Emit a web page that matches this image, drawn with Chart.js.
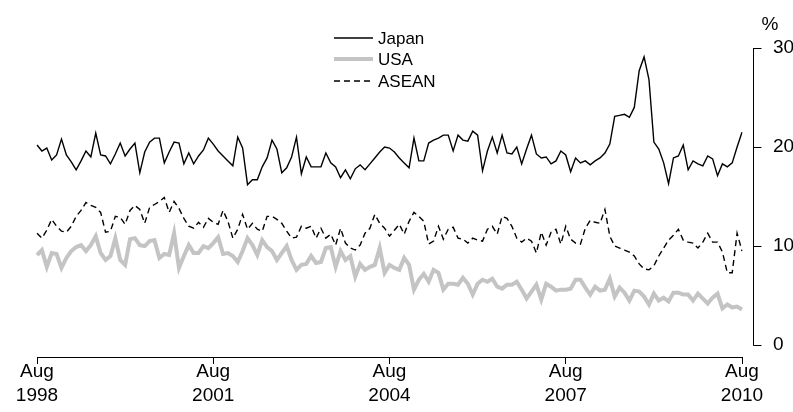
<!DOCTYPE html>
<html>
<head>
<meta charset="utf-8">
<script src="https://cdn.jsdelivr.net/npm/chart.js@4.4.1/dist/chart.umd.min.js"></script>
<style>
  html, body { margin: 0; padding: 0; background: #fff; }
  #wrap { width: 793px; height: 412px; position: relative; }
</style>
</head>
<body>
<div id="wrap"><canvas id="grafico"></canvas></div>
<script>
// monthly, Aug 1998 to Aug 2010
const startYear = 1998
const startMonth = 7
const monthNames = ['Jan','Feb','Mar','Apr','May','Jun','Jul','Aug','Sep','Oct','Nov','Dec']

const japan = [
  20.2, 19.6, 19.9, 18.7, 19.2, 20.8, 19.2, 18.5, 17.7, 18.6, 19.6, 19.0, 21.4, 19.2, 19.1, 18.3, 19.3, 20.4, 19.1, 19.8, 20.4, 17.4, 19.5, 20.5, 20.9,
  20.9, 18.4, 19.5, 20.5, 20.4, 18.3, 19.4, 18.3, 19.1, 19.7, 20.9, 20.3, 19.6, 19.1, 18.6, 18.1, 21.0, 19.9, 16.2, 16.7, 16.7,
  18.0, 18.9, 20.7, 19.8, 17.4, 17.9, 19.0, 21.0, 17.3, 19.0, 18.0, 18.0, 18.0, 19.4, 18.4, 18.0, 16.9, 17.7, 16.8, 17.8, 18.2, 17.7, 18.3, 18.9, 19.5, 20.0,
  19.9, 19.5, 18.9, 18.4, 17.9, 20.9, 18.6, 18.6, 20.4, 20.7, 20.9, 21.2, 21.2, 19.6, 21.2, 20.7, 20.6, 21.6, 21.2, 17.6, 19.6, 21.0, 19.4,
  21.2, 19.4, 19.3, 20.0, 18.3, 19.8, 21.2, 19.3, 18.9, 19.0, 18.3, 18.6, 19.6, 19.2, 17.5, 18.9, 18.4, 18.6, 18.2, 18.6, 18.9, 19.4, 20.3, 23.1,
  23.2, 23.3, 23.0, 24.0, 27.7, 29.1, 26.8, 20.5, 19.8, 18.4, 16.3, 18.9, 19.1, 20.2, 17.7, 18.6, 18.3, 18.1, 19.1, 18.8, 17.1, 18.3, 18.0, 18.4, 20.0, 21.5
]

const usa = [
  9.1, 9.6, 7.9, 9.3, 9.2, 7.8, 8.8, 9.5, 9.9, 10.1, 9.5, 10.1, 11.0, 9.3, 8.6, 9.0, 10.8, 8.6, 8.1, 10.7, 10.8, 10.1, 10.0, 10.5, 10.6,
  8.8, 9.2, 9.1, 11.3, 7.8, 9.0, 10.1, 9.3, 9.3, 10.0, 9.8, 10.3, 10.9, 9.2, 9.3, 9.0, 8.4, 9.5, 10.8, 10.1, 9.1,
  10.6, 9.9, 9.5, 8.6, 9.3, 10.0, 8.6, 7.6, 8.1, 8.2, 9.0, 8.3, 8.4, 9.8, 9.9, 7.9, 9.5, 8.6, 9.0, 6.9, 8.2, 7.6, 7.9, 8.1,
  9.8, 7.3, 8.1, 7.8, 7.6, 8.8, 8.1, 5.6, 6.6, 7.2, 6.4, 7.6, 7.3, 5.6, 6.2, 6.2, 6.1, 6.8, 6.2, 5.1, 6.2, 6.6,
  6.4, 6.7, 5.9, 5.7, 6.1, 6.1, 6.4, 5.6, 4.7, 5.4, 6.1, 4.6, 6.2, 5.9, 5.5, 5.6, 5.6, 5.7, 6.6, 6.6, 5.8, 5.1, 5.9,
  5.5, 5.6, 6.7, 4.9, 5.8, 5.3, 4.5, 5.5, 5.4, 4.9, 4.1, 5.2, 4.5, 4.8, 4.4, 5.3, 5.3, 5.1, 5.1, 4.5, 5.2, 4.7, 4.2, 4.8, 5.2, 3.7, 4.1, 3.8, 3.9, 3.6
]

const asean = [
  11.3, 10.8, 11.6, 12.7, 12.0, 11.5, 11.4, 12.0, 13.0, 13.6, 14.4, 14.1, 13.9, 13.4, 11.4, 11.5, 13.0, 12.9, 12.2, 13.6, 14.1, 13.7, 12.3, 13.9,
  14.2, 14.5, 14.9, 13.4, 14.5, 13.8, 12.8, 12.0, 11.8, 12.4, 11.9, 12.8, 12.4, 12.2, 13.6, 12.5, 10.8, 11.7, 13.2, 11.7, 12.3, 11.7,
  11.5, 13.0, 13.0, 12.7, 12.3, 11.5, 10.8, 10.9, 12.0, 11.8, 12.0, 10.8, 11.8, 10.8, 11.2, 10.1, 11.8, 10.3, 9.8, 9.6, 10.1, 11.3, 11.8,
  13.2, 12.3, 11.8, 11.0, 11.6, 12.2, 11.2, 12.5, 13.4, 13.0, 12.5, 10.2, 10.5, 12.0, 10.7, 11.7, 11.9, 10.8, 10.7, 10.3, 10.8, 10.6, 10.5, 11.7, 12.0, 11.2,
  13.0, 12.8, 12.0, 10.8, 10.4, 10.8, 10.5, 9.3, 11.4, 10.1, 11.4, 11.7, 10.2, 12.0, 10.7, 10.3, 10.2, 11.8, 12.6, 12.4,
  12.3, 13.7, 11.0, 10.0, 9.8, 9.6, 9.4, 9.0, 8.2, 7.7, 7.6, 8.0, 9.0, 9.8, 10.6, 11.1, 11.7, 10.6, 10.4, 10.3, 9.8, 10.4, 11.3, 10.4, 10.4, 9.4, 7.3, 7.3, 11.3, 9.5
]

const yTicks = [0, 10, 20, 30]
const seriesNames = ['Japan', 'USA', 'ASEAN']

const meses = japan.map((v, i) => {
  const m = (startMonth + i) % 12
  const y = startYear + Math.floor((startMonth + i) / 12)
  return monthNames[m] + ' ' + y
})

const fuente = 'Liberation Sans, Arial, sans-serif'

const ejeDerecho = {
  id: 'ejeDerecho',
  afterDraw(chart) {
    const { ctx, chartArea, scales } = chart
    const y = scales.y
    const ax = Math.round(chartArea.right + 11) + 0.5
    ctx.save()
    ctx.strokeStyle = '#000'
    ctx.lineWidth = 1
    ctx.beginPath()
    ctx.moveTo(ax, y.getPixelForValue(30))
    ctx.lineTo(ax, y.getPixelForValue(0) + 0.5)
    yTicks.forEach(t => {
      const py = Math.round(y.getPixelForValue(t)) + 0.5
      ctx.moveTo(ax, py)
      ctx.lineTo(ax + 8, py)
    })
    ctx.stroke()
    ctx.fillStyle = '#000'
    ctx.font = '19px ' + fuente
    ctx.textBaseline = 'middle'
    ctx.textAlign = 'left'
    ctx.fillText('%', ax + 8, y.getPixelForValue(30) - 23)

    // leyenda
    const sets = [chart.data.datasets[0], chart.data.datasets[2], chart.data.datasets[1]]
    const ly = [38, 59, 81]
    ctx.font = '17px ' + fuente
    sets.forEach((ds, k) => {
      ctx.beginPath()
      ctx.strokeStyle = ds.borderColor
      ctx.lineWidth = ds.borderWidth
      ctx.setLineDash(ds.borderDash || [])
      ctx.moveTo(334, ly[k])
      ctx.lineTo(373, ly[k])
      ctx.stroke()
      ctx.setLineDash([])
      ctx.fillText(ds.label, 378, ly[k] + 1)
    })
    ctx.restore()
  }
}

const config = {
  type: 'line',
  data: {
    labels: meses,
    datasets: [
      { label: seriesNames[0], data: japan, borderColor: '#000', borderWidth: 1.4, pointRadius: 0, tension: 0 },
      { label: seriesNames[2], data: asean, borderColor: '#000', borderWidth: 1.4, borderDash: [6, 4], pointRadius: 0, tension: 0 },
      { label: seriesNames[1], data: usa, borderColor: '#c4c4c4', borderWidth: 4, pointRadius: 0, tension: 0 }
    ]
  },
  options: {
    responsive: false,
    animation: false,
    layout: { padding: { left: 37, top: 48, right: 0, bottom: 0 } },
    plugins: { legend: { display: false }, tooltip: { enabled: false } },
    scales: {
      x: {
        type: 'category',
        offset: false,
        border: { display: true, color: '#000', width: 1 },
        grid: { display: true, drawOnChartArea: false, drawTicks: true, tickLength: 7, color: '#000' },
        ticks: {
          autoSkip: false,
          maxRotation: 0,
          padding: -4,
          color: '#000',
          font: { family: fuente, size: 19, lineHeight: 1.25 },
          callback: (val, i) => (i % 36 === 0 ? meses[i].split(' ') : null)
        },
        afterFit: (s) => { s.height = 55 }
      },
      y: {
        position: 'right',
        min: -1.2,
        max: 30,
        border: { display: false },
        grid: { display: false },
        ticks: { padding: 23, color: '#000', font: { family: fuente, size: 19 } },
        afterBuildTicks: (s) => { s.ticks = yTicks.map(v => ({ value: v })) },
        afterFit: (s) => { s.width = 51 }
      }
    }
  },
  plugins: [ejeDerecho]
}

const lienzo = document.getElementById('grafico')
lienzo.width = 793
lienzo.height = 412
const miGrafico = new Chart(lienzo, config)
</script>
</body>
</html>
